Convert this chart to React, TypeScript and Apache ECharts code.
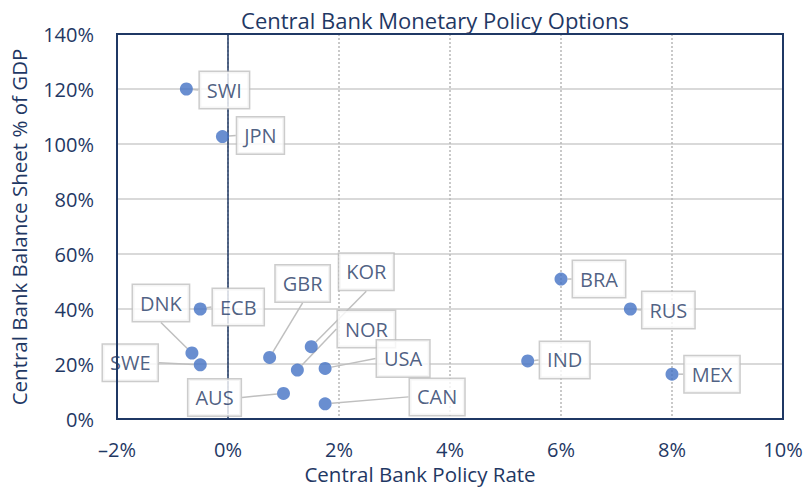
import React, { useEffect, useRef } from "react";
import * as echarts from "echarts";

const countries = ["SWI", "JPN", "ECB", "DNK", "SWE", "GBR", "KOR", "NOR", "USA", "AUS", "CAN", "BRA", "RUS", "IND", "MEX"];
const policyRate = [-0.75, -0.1, -0.5, -0.65, -0.5, 0.75, 1.5, 1.25, 1.75, 1.0, 1.75, 6.0, 7.25, 5.4, 8.0];
const balanceSheet = [120, 102.7, 40, 24, 19.7, 22.4, 26.3, 17.8, 18.4, 9.3, 5.5, 50.9, 40, 21.1, 16.3];
const xTicks = [-2, 0, 2, 4, 6, 8, 10];
const yTicks = [0, 20, 40, 60, 80, 100, 120, 140];

// label offsets (pixels) relative to each point
const labelOffsets: Record<string, [number, number]> = {
  SWI: [38, 1],
  JPN: [38, -1],
  ECB: [38, -2],
  DNK: [-31, -50],
  SWE: [-70, -2],
  GBR: [33, -74],
  KOR: [55, -75],
  NOR: [69, -41],
  USA: [78, -10],
  AUS: [-69, 4],
  CAN: [112, -7],
  BRA: [38, 0],
  RUS: [38, 1],
  IND: [37, -1],
  MEX: [40, 0],
};

const NAVY = "#1f3864";
const FONT = "Open Sans";
const W = 808;
const H = 487;
const G = { left: 117, right: 25, top: 34, bottom: 68 };

export default function App() {
  const ref = useRef<HTMLDivElement>(null);
  useEffect(() => {
    document.body.style.margin = "0";
    if (!ref.current) return;
    const chart = echarts.init(ref.current, undefined, { renderer: "svg" });
    const data = countries.map((c, i) => ({ name: c, value: [policyRate[i], balanceSheet[i]] }));
    const fmt = (v: number) => (v < 0 ? "\u2013" + Math.abs(v) : String(v)) + "%";
    chart.setOption({
      animation: false,
      textStyle: { fontFamily: FONT },
      grid: { ...G },
      xAxis: {
        type: "value",
        min: xTicks[0],
        max: xTicks[xTicks.length - 1],
        interval: 2,
        axisLine: { show: false },
        axisTick: { show: false },
        axisLabel: { formatter: fmt, color: NAVY, fontSize: 20, lineHeight: 20, fontFamily: FONT, margin: 20 },
        splitLine: { show: true, lineStyle: { color: "#b8b8b8", type: [2, 2], width: 1.5 } },
      },
      yAxis: {
        type: "value",
        min: yTicks[0],
        max: yTicks[yTicks.length - 1],
        interval: 20,
        axisLine: { show: false },
        axisTick: { show: false },
        axisLabel: { formatter: (v: number) => v + "%", color: NAVY, fontSize: 20, fontFamily: FONT, margin: 23 },
        splitLine: { show: true, lineStyle: { color: "#d9d9d9", width: 2 } },
      },
      graphic: [
        {
          type: "rect",
          z: 100,
          silent: true,
          shape: { x: G.left, y: G.top, width: W - G.left - G.right, height: H - G.top - G.bottom },
          style: { fill: "none", stroke: NAVY, lineWidth: 2 },
        },
        {
          type: "text",
          x: 435,
          y: 20,
          style: {
            text: "Central Bank Monetary Policy Options",
            fill: NAVY,
            font: `22px "${FONT}"`,
            align: "center",
            verticalAlign: "middle",
          },
        },
        {
          type: "text",
          x: 420,
          y: 474,
          style: {
            text: "Central Bank Policy Rate",
            fill: NAVY,
            font: `20.5px "${FONT}"`,
            lineHeight: 20,
            align: "center",
            verticalAlign: "middle",
          },
        },
        {
          type: "text",
          x: 19,
          y: 227,
          rotation: Math.PI / 2,
          style: {
            text: "Central Bank Balance Sheet % of GDP",
            fill: NAVY,
            font: `20.5px "${FONT}"`,
            align: "center",
            verticalAlign: "middle",
          },
        },
      ],
      series: [
        {
          type: "scatter",
          data,
          symbolSize: 13,
          itemStyle: { color: "#4472C4" },
          z: 5,
          label: {
            show: true,
            position: "inside",
            formatter: (p: any) => p.name,
            color: NAVY,
            fontSize: 20,
            fontFamily: FONT,
            lineHeight: 20,
            backgroundColor: "#ffffff",
            borderColor: "#bfbfbf",
            borderWidth: 1.5,
            padding: [8, 7, 8, 7],
          },
          labelLine: { show: true, lineStyle: { color: "#bfbfbf", width: 1.5 } },
          labelLayout: (p: any) => {
            const off = labelOffsets[countries[p.dataIndex]] || [0, 0];
            return { dx: off[0], dy: off[1] };
          },
          markLine: {
            silent: true,
            symbol: "none",
            label: { show: false },
            lineStyle: { color: NAVY, type: "solid", width: 1.5 },
            data: [{ xAxis: 0 }],
          },
        },
      ],
    });
    return () => chart.dispose();
  }, []);
  return <div ref={ref} style={{ width: W, height: H }} />;
}
